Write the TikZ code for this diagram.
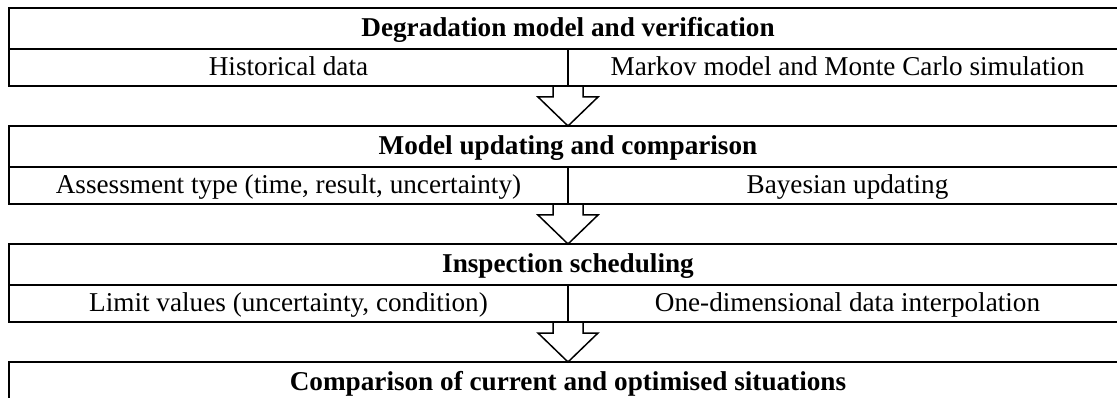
\documentclass[tikz,border=0pt]{standalone}
\usepackage{fontspec}
\setmainfont{Liberation Serif}
\usetikzlibrary{calc,positioning}

\tikzset{
  headbox/.style={draw, line width=2pt, minimum width=1118pt, minimum height=41.5pt,
    inner sep=0pt, outer sep=0pt, text height=19pt, text depth=4pt,
    font=\fontsize{27.2}{31}\selectfont\bfseries},
  subbox/.style={draw, line width=2pt, minimum width=559pt, minimum height=36.5pt,
    inner sep=0pt, outer sep=0pt, text height=19pt, text depth=4pt,
    font=\fontsize{27.2}{31}\selectfont},
  stagearrow/.style={draw, line width=1.5pt, line join=miter}
}

% hollow block arrow from the divider of one stage to the next stage
\newcommand{\nextstage}[2]{%
  \draw[stagearrow] ($(#1.south east)+(-15,0)$) -- ++(0,11) -- ++(-15,0)
    -- (#2.north) -- ($(#2.north)+(30,-29)$) -- ++(-15,0)
    -- ($(#1.south east)+(15,0)$);}

\begin{document}
\begin{tikzpicture}[x=1pt, y=-1pt]
  \clip (0,0) rectangle (1117,398);
  \useasboundingbox (0,0) rectangle (1117,398);

  % stage 1
  \node[headbox] (degr) at (568,28.75) {Degradation model and verification};
  \node[subbox, below right=0pt of degr.south west] (hist) {Historical data};
  \node[subbox, below left=0pt of degr.south east] (mark) {Markov model and Monte Carlo simulation};

  % stage 2
  \node[headbox] (updt) at (568,146.75) {Model updating and comparison};
  \node[subbox, below right=0pt of updt.south west] (asse) {Assessment type (time, result, uncertainty)};
  \node[subbox, below left=0pt of updt.south east] (baye) {Bayesian updating};

  % stage 3
  \node[headbox] (insp) at (568,264.75) {Inspection scheduling};
  \node[subbox, below right=0pt of insp.south west] (limt) {Limit values (uncertainty, condition)};
  \node[subbox, below left=0pt of insp.south east] (intp) {One-dimensional data interpolation};

  % stage 4
  \node[headbox] (comp) at (568,382.75) {Comparison of current and optimised situations};

  \nextstage{hist}{updt}
  \nextstage{asse}{insp}
  \nextstage{limt}{comp}
\end{tikzpicture}
\end{document}
